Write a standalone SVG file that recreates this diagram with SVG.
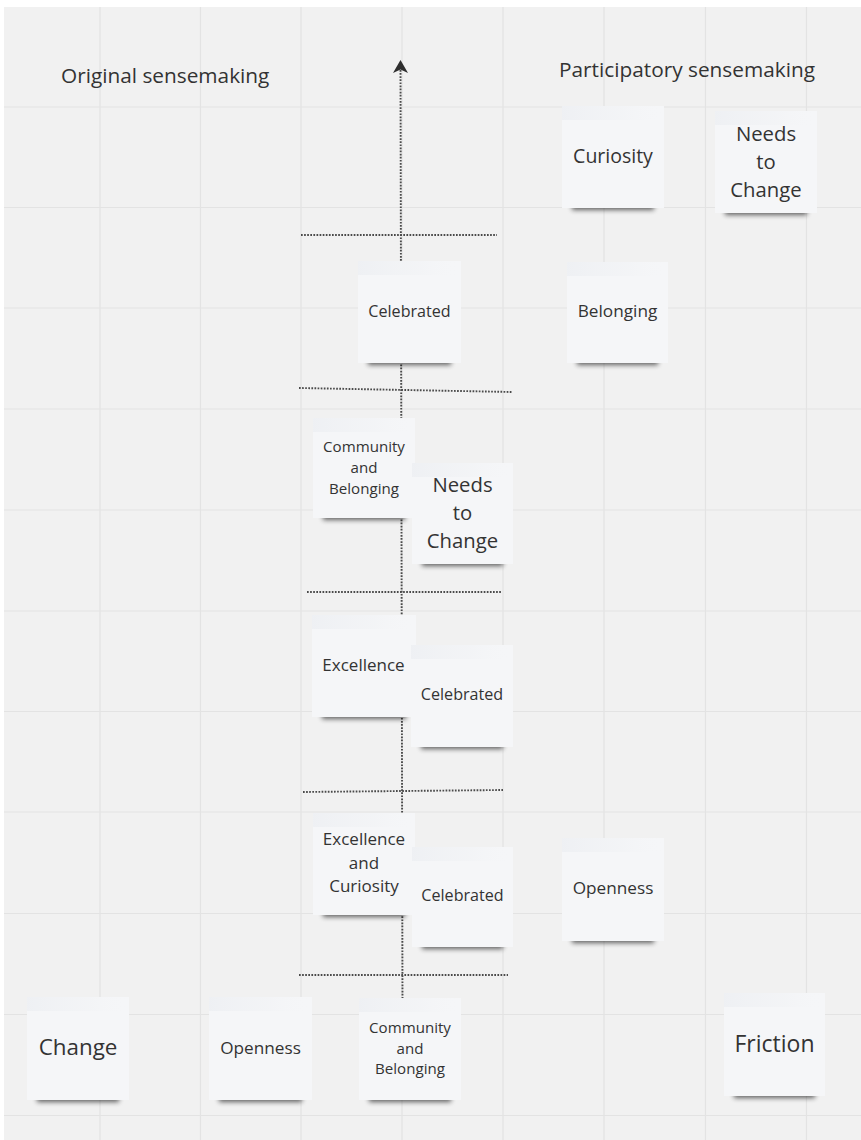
<svg xmlns="http://www.w3.org/2000/svg" width="861" height="1140" viewBox="0 0 861 1140">
  <style>
    .grid line { stroke: #e3e3e3; stroke-width: 1.2; }
    .dot { stroke: #4a4a4a; stroke-width: 1.9; stroke-dasharray: 1.7 1.4; fill: none; }
    .note { fill: #f5f6f8; }
    .band { fill: url(#bandGrad); }
    .shadow { fill: #000; opacity: 0.6; filter: url(#blur); }
    text { font-family: "Open Sans", "Noto Sans", "Liberation Sans", sans-serif; fill: #333333; }
    .t { text-anchor: middle; }
    .hdr { font-size: 20.8px; }
  </style>
  <defs>
    <filter id="blur" x="-20%" y="-200%" width="140%" height="500%">
      <feGaussianBlur stdDeviation="2.6"/>
    </filter>
    <linearGradient id="bandGrad" x1="0" y1="0" x2="1" y2="0">
      <stop offset="0" stop-color="#e6e9ee" stop-opacity="0.45"/>
      <stop offset="0.6" stop-color="#eceef1" stop-opacity="0.25"/>
      <stop offset="1" stop-color="#f5f6f8" stop-opacity="0"/>
    </linearGradient>
  </defs>

  <rect x="0" y="0" width="861" height="1140" fill="#ffffff"/>
  <rect x="4" y="7" width="857" height="1133" fill="#f1f1f1"/>

  <g class="grid" id="grid">
    <line x1="100" y1="7" x2="100" y2="1140"/>
    <line x1="200.5" y1="7" x2="200.5" y2="1140"/>
    <line x1="301" y1="7" x2="301" y2="1140"/>
    <line x1="402" y1="7" x2="402" y2="1140"/>
    <line x1="503" y1="7" x2="503" y2="1140"/>
    <line x1="604" y1="7" x2="604" y2="1140"/>
    <line x1="705.5" y1="7" x2="705.5" y2="1140"/>
    <line x1="806.5" y1="7" x2="806.5" y2="1140"/>
    <line x1="4" y1="107" x2="861" y2="107"/>
    <line x1="4" y1="207.5" x2="861" y2="207.5"/>
    <line x1="4" y1="308" x2="861" y2="308"/>
    <line x1="4" y1="409" x2="861" y2="409"/>
    <line x1="4" y1="510" x2="861" y2="510"/>
    <line x1="4" y1="611" x2="861" y2="611"/>
    <line x1="4" y1="711.5" x2="861" y2="711.5"/>
    <line x1="4" y1="812" x2="861" y2="812"/>
    <line x1="4" y1="913.5" x2="861" y2="913.5"/>
    <line x1="4" y1="1014.5" x2="861" y2="1014.5"/>
    <line x1="4" y1="1115.5" x2="861" y2="1115.5"/>
  </g>

  <g id="headers">
    <text class="hdr" x="61" y="83">Original sensemaking</text>
    <text class="hdr" x="559" y="77">Participatory sensemaking</text>
  </g>

  <g id="connectors">
    <line class="dot" x1="400.5" y1="70" x2="402.5" y2="1000"/>
    <polygon points="400.5,60 393,73 400.5,69.5 408,73" fill="#2e2e2e"/>
    <line class="dot" x1="301" y1="235" x2="497" y2="235"/>
    <line class="dot" x1="299" y1="388" x2="512" y2="392"/>
    <line class="dot" x1="307" y1="592" x2="502" y2="592"/>
    <line class="dot" x1="303" y1="792" x2="503" y2="790"/>
    <line class="dot" x1="299" y1="975" x2="508" y2="975"/>
  </g>

  <g id="note-curiosity">
    <rect class="shadow" x="572" y="202" width="82" height="8"/>
    <rect class="note" x="562" y="106" width="102" height="102"/>
    <rect class="band" x="562" y="106" width="102" height="14"/>
    <text class="t" x="613" y="163" font-size="19.5">Curiosity</text>
  </g>

  <g id="note-needs-top">
    <rect class="shadow" x="725" y="207" width="82" height="8"/>
    <rect class="note" x="715" y="111" width="102" height="102"/>
    <rect class="band" x="715" y="111" width="102" height="14"/>
    <text class="t" x="766" y="141" font-size="20.3">Needs</text>
    <text class="t" x="766" y="169" font-size="20.3">to</text>
    <text class="t" x="766" y="197" font-size="20.3">Change</text>
  </g>

  <g id="note-celebrated-1">
    <rect class="shadow" x="368" y="357" width="83" height="8"/>
    <rect class="note" x="358" y="261" width="103" height="102"/>
    <rect class="band" x="358" y="261" width="103" height="14"/>
    <text class="t" x="409.5" y="317" font-size="16.1">Celebrated</text>
  </g>

  <g id="note-belonging">
    <rect class="shadow" x="577" y="357" width="81" height="8"/>
    <rect class="note" x="567" y="262" width="101" height="101"/>
    <rect class="band" x="567" y="262" width="101" height="14"/>
    <text class="t" x="617.5" y="317" font-size="17.2">Belonging</text>
  </g>

  <g id="note-community-1">
    <rect class="shadow" x="323" y="512" width="82" height="8"/>
    <rect class="note" x="313" y="418" width="102" height="100"/>
    <rect class="band" x="313" y="418" width="102" height="14"/>
    <text class="t" x="364" y="452" font-size="15.1">Community</text>
    <text class="t" x="364" y="473" font-size="15.1">and</text>
    <text class="t" x="364" y="493.5" font-size="15.1">Belonging</text>
  </g>

  <g id="note-needs-mid">
    <rect class="shadow" x="422" y="558" width="81" height="8"/>
    <rect class="note" x="412" y="463" width="101" height="101"/>
    <rect class="band" x="412" y="463" width="101" height="14"/>
    <text class="t" x="462.5" y="492" font-size="20.3">Needs</text>
    <text class="t" x="462.5" y="520" font-size="20.3">to</text>
    <text class="t" x="462.5" y="548" font-size="20.3">Change</text>
  </g>

  <g id="note-excellence">
    <rect class="shadow" x="322" y="711" width="84" height="8"/>
    <rect class="note" x="312" y="615" width="104" height="102"/>
    <rect class="band" x="312" y="615" width="104" height="14"/>
    <text class="t" x="363.5" y="671" font-size="17">Excellence</text>
  </g>

  <g id="note-celebrated-2">
    <rect class="shadow" x="421" y="741" width="82" height="8"/>
    <rect class="note" x="411" y="645" width="102" height="102"/>
    <rect class="band" x="411" y="645" width="102" height="14"/>
    <text class="t" x="462" y="700" font-size="16.1">Celebrated</text>
  </g>

  <g id="note-excellence-curiosity">
    <rect class="shadow" x="323" y="909" width="82" height="8"/>
    <rect class="note" x="313" y="813" width="102" height="102"/>
    <rect class="band" x="313" y="813" width="102" height="14"/>
    <text class="t" x="364" y="845" font-size="17">Excellence</text>
    <text class="t" x="364" y="868.5" font-size="17">and</text>
    <text class="t" x="364" y="892" font-size="17">Curiosity</text>
  </g>

  <g id="note-celebrated-3">
    <rect class="shadow" x="422" y="941" width="81" height="8"/>
    <rect class="note" x="412" y="847" width="101" height="100"/>
    <rect class="band" x="412" y="847" width="101" height="14"/>
    <text class="t" x="462.5" y="901" font-size="16.1">Celebrated</text>
  </g>

  <g id="note-openness-right">
    <rect class="shadow" x="572" y="935" width="82" height="8"/>
    <rect class="note" x="562" y="838" width="102" height="103"/>
    <rect class="band" x="562" y="838" width="102" height="14"/>
    <text class="t" x="613" y="894" font-size="17.2">Openness</text>
  </g>

  <g id="note-friction">
    <rect class="shadow" x="734" y="1090" width="81" height="8"/>
    <rect class="note" x="724" y="993" width="101" height="103"/>
    <rect class="band" x="724" y="993" width="101" height="14"/>
    <text class="t" x="774.5" y="1052" font-size="23">Friction</text>
  </g>

  <g id="note-change">
    <rect class="shadow" x="37" y="1094" width="82" height="8"/>
    <rect class="note" x="27" y="997" width="102" height="103"/>
    <rect class="band" x="27" y="997" width="102" height="14"/>
    <text class="t" x="78" y="1055" font-size="22.4">Change</text>
  </g>

  <g id="note-openness-left">
    <rect class="shadow" x="219" y="1094" width="83" height="8"/>
    <rect class="note" x="209" y="997" width="103" height="103"/>
    <rect class="band" x="209" y="997" width="103" height="14"/>
    <text class="t" x="260.5" y="1054" font-size="17.2">Openness</text>
  </g>

  <g id="note-community-2">
    <rect class="shadow" x="369" y="1094" width="82" height="8"/>
    <rect class="note" x="359" y="998" width="102" height="102"/>
    <rect class="band" x="359" y="998" width="102" height="14"/>
    <text class="t" x="410" y="1033" font-size="15.1">Community</text>
    <text class="t" x="410" y="1053.5" font-size="15.1">and</text>
    <text class="t" x="410" y="1074" font-size="15.1">Belonging</text>
  </g>
</svg>
